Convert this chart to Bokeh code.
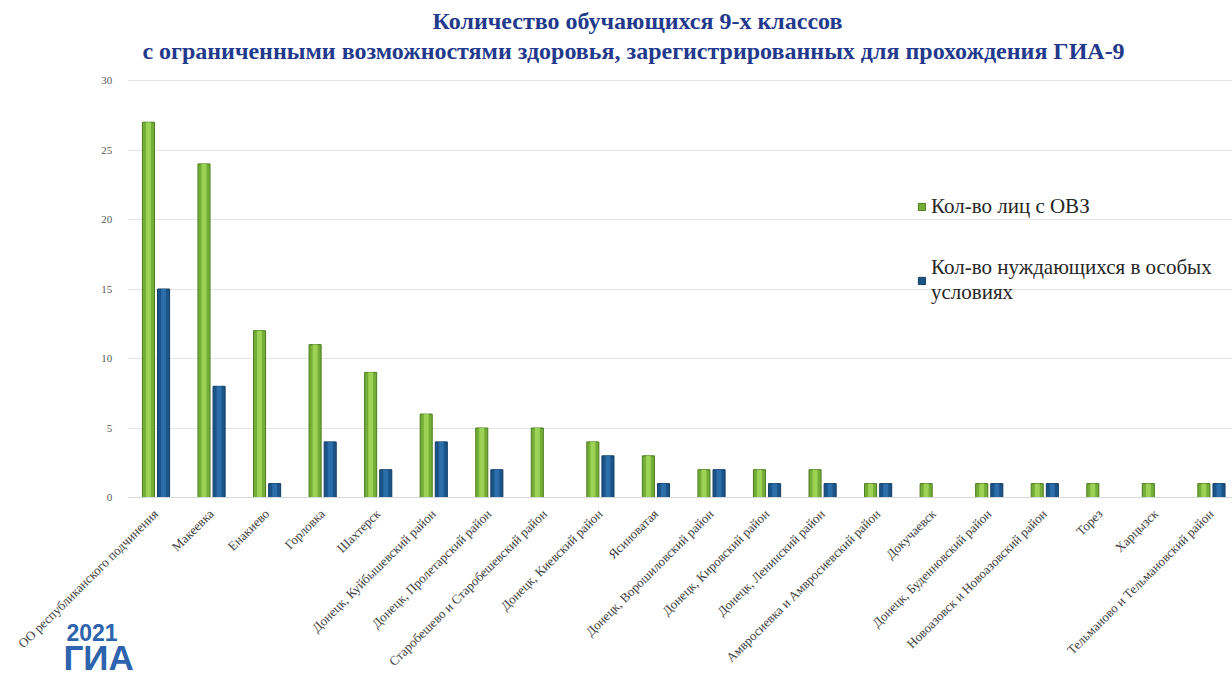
from bokeh.plotting import figure
from bokeh.models import (ColumnDataSource, Legend, LegendItem, Label, FixedTicker, Range1d,
                          LinearAxis, Grid)
from bokeh.transform import dodge
from bokeh.embed import file_html
from bokeh.resources import INLINE

categories = [
    "ОО республиканского подчинения",
    "Макеевка",
    "Енакиево",
    "Горловка",
    "Шахтерск",
    "Донецк, Куйбышевский район",
    "Донецк, Пролетарский район",
    "Старобешево и Старобешевский район",
    "Донецк, Киевский район",
    "Ясиноватая",
    "Донецк, Ворошиловский район",
    "Донецк, Кировский район",
    "Донецк, Ленинский район",
    "Амвросиевка и Амвросиевский район",
    "Докучаевск",
    "Донецк, Буденновский район",
    "Новоазовск и Новоазовский район",
    "Торез",
    "Харцызск",
    "Тельманово и Тельмановский район",
]
ovz = [27, 24, 12, 11, 9, 6, 5, 5, 4, 3, 2, 2, 2, 1, 1, 1, 1, 1, 1, 1]
special = [15, 8, 1, 4, 2, 4, 2, 0, 3, 1, 2, 1, 1, 1, 0, 1, 1, 0, 0, 1]
y_ticks = [0, 5, 10, 15, 20, 25, 30]
title_line1 = "Количество обучающихся 9-х классов"
title_line2 = "с ограниченными возможностями здоровья, зарегистрированных для прохождения ГИА-9"
series_names = ["Кол-во лиц с ОВЗ", "Кол-во нуждающихся в особых\nусловиях"]
logo_year = "2021"
logo_name = "ГИА"

W, H = 1232, 677
idx = list(range(len(categories)))
src = ColumnDataSource(data=dict(x=idx, cat=categories, ovz=ovz, special=special))

# plot area geometry (pixels)
first_center_px = 155.5
cat_w = 55.55
y0_px, y30_px = 497, 80
n = len(categories)
x_start = -first_center_px / cat_w
x_end = (W - first_center_px) / cat_w
ppu = (y0_px - y30_px) / 30.0
y_end = 30 + y30_px / ppu
y_start = -(H - y0_px) / ppu

p = figure(
    x_range=Range1d(x_start, x_end),
    y_range=Range1d(y_start, y_end),
    width=W,
    height=H,
    output_backend="svg",
    toolbar_location=None,
    x_axis_location=None,
    y_axis_location=None,
    min_border=0,
    background_fill_color="white",
    border_fill_color="white",
)
p.outline_line_color = None
p.xgrid.visible = False
p.ygrid.visible = False

serif = "Liberation Serif"

# grid
grid = Grid(dimension=1, ticker=FixedTicker(ticks=y_ticks), grid_line_color="#E4E4E4")
if "cross_bounds" in Grid.properties():
    grid.cross_bounds = (-0.5, n - 0.5)
p.add_layout(grid)

# bars
g_main = p.vbar(x=dodge("x", -0.136), top="ovz", width=0.217, source=src,
                fill_color="#74AE36", line_color="#4A7A1E", line_width=1)
p.vbar(x=dodge("x", -0.136), top="ovz", width=0.09, source=src,
       fill_color="#9CD255", line_color=None)
b_main = p.vbar(x=dodge("x", 0.136), top="special", width=0.217, source=src,
                fill_color="#1B5488", line_color="#123C63", line_width=1)
p.vbar(x=dodge("x", 0.136), top="special", width=0.09, source=src,
       fill_color="#2B6EAA", line_color=None)

# axes (drawn inside the canvas at fixed locations)
xaxis = LinearAxis(fixed_location=0, bounds=(-0.5, n - 0.5),
                   ticker=FixedTicker(ticks=idx),
                   major_label_overrides={i: c for i, c in zip(idx, categories)})
xaxis.axis_line_color = "#D9D9D9"
xaxis.major_tick_line_color = None
xaxis.minor_tick_line_color = None
xaxis.major_label_orientation = 0.78
xaxis.major_label_text_font = serif
xaxis.major_label_text_font_size = "13px"
xaxis.major_label_text_color = "#404040"
xaxis.major_label_standoff = 8
p.add_layout(xaxis, "below")

yaxis = LinearAxis(fixed_location=-0.5, bounds=(0, 30), ticker=FixedTicker(ticks=y_ticks))
yaxis.axis_line_color = None
yaxis.major_tick_line_color = None
yaxis.minor_tick_line_color = None
yaxis.major_label_text_font = serif
yaxis.major_label_text_font_size = "11px"
yaxis.major_label_text_color = "#595959"
yaxis.major_label_standoff = 10
p.add_layout(yaxis, "left")

# titles
for txt, sx, sy in [(title_line1, 637, H - 20), (title_line2, 633, H - 50)]:
    p.add_layout(Label(x=sx, y=sy, x_units="screen", y_units="screen", text=txt,
                       text_align="center", text_baseline="middle", text_font=serif,
                       text_font_size="24px", text_font_style="bold", text_color="#22398C"))

# legend
legend = Legend(
    items=[LegendItem(label=series_names[0], renderers=[g_main]),
           LegendItem(label=series_names[1], renderers=[b_main])],
    location=(917, 372),
    orientation="vertical",
    label_text_font=serif,
    label_text_font_size="21px",
    label_text_color="#262626",
    label_height=20,
    glyph_width=9,
    glyph_height=9,
    label_standoff=5,
    spacing=36,
    padding=0,
    margin=0,
    border_line_color=None,
    background_fill_alpha=0,
)
p.add_layout(legend)

# logo text
logo_font = "Liberation Sans"
p.add_layout(Label(x=66, y=H - 632, x_units="screen", y_units="screen", text=logo_year,
                   text_baseline="middle", text_font=logo_font, text_font_style="bold",
                   text_font_size="23px", text_color="#2E63AE"))
p.add_layout(Label(x=63, y=1, x_units="screen", y_units="screen", text=logo_name,
                   text_baseline="bottom", text_font=logo_font, text_font_style="bold",
                   text_font_size="35px", text_color="#2E63AE"))

open("out.html", "w").write(file_html(p, INLINE))
